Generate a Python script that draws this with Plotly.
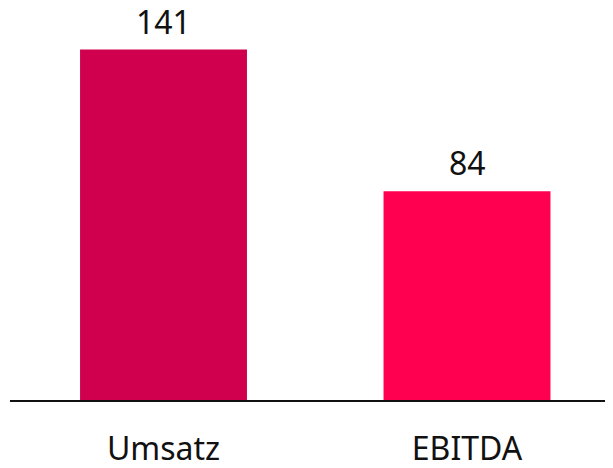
import plotly.graph_objects as go

categories = ["Umsatz", "EBITDA"]
values = [141, 84]
bar_colors = ["#D0004F", "#FF0050"]

FONT = "Noto Sans"

fig = go.Figure(go.Bar(
    x=categories,
    y=values,
    marker=dict(color=bar_colors, line=dict(width=0)),
    width=0.55,
    cliponaxis=False,
))

for c, v in zip(categories, values):
    fig.add_annotation(
        x=c, y=v, text=str(v), showarrow=False,
        yanchor="bottom", yshift=5,
        font=dict(family=FONT, size=32, color="#111111"),
    )

fig.update_layout(
    width=613, height=468,
    margin=dict(l=2, r=0, t=0, b=76, autoexpand=False),
    paper_bgcolor="white", plot_bgcolor="white",
    showlegend=False,
    font=dict(family=FONT, size=32, color="#111111"),
    xaxis=dict(
        range=[-0.5058, 1.5074],
        showline=True, linecolor="#111111", linewidth=2,
        showgrid=False, zeroline=False, ticks="",
        ticklabelstandoff=20,
        automargin=False,
        tickfont=dict(family=FONT, size=32, color="#111111"),
    ),
    yaxis=dict(
        range=[0, 157.7], visible=False, showgrid=False, zeroline=False,
        automargin=False,
    ),
)

fig.write_html("out.html")
